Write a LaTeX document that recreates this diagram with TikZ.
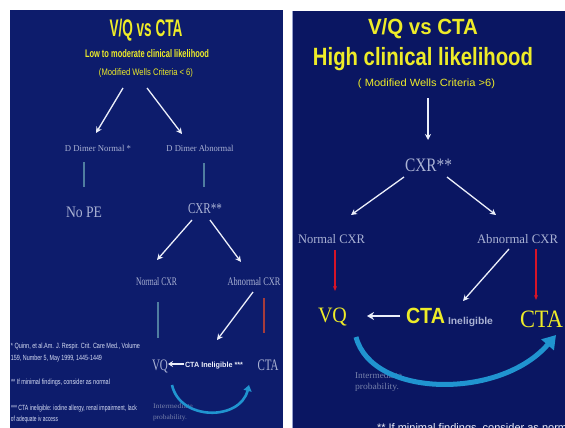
\documentclass[tikz,border=0pt]{standalone}
\usepackage{fontspec}
\setmainfont{Liberation Serif}
\setsansfont{Liberation Sans}
\usetikzlibrary{arrows.meta}
\definecolor{bgL}{RGB}{13,28,108}
\definecolor{bgR}{RGB}{10,22,98}
\definecolor{ylw}{RGB}{238,236,40}
\definecolor{gtxt}{RGB}{170,178,212}
\definecolor{dimtxt}{RGB}{118,128,170}
\definecolor{fnote}{RGB}{215,222,245}
\definecolor{tealL}{RGB}{80,125,160}
\definecolor{redL}{RGB}{165,60,60}
\definecolor{redR}{RGB}{215,20,40}
\definecolor{cyanA}{RGB}{32,148,208}
\definecolor{wht}{RGB}{236,239,250}
\definecolor{edgeR}{RGB}{150,160,205}
\newcommand\sx[2]{\resizebox{#1pt}{\height}{#2}}
\newcommand\fs[1]{\fontsize{#1}{#1}\selectfont}
\begin{document}
\begin{tikzpicture}[x=1pt,y=-1pt,
  every node/.style={inner sep=0pt, outer sep=0pt},
  ytitle/.style={text=ylw, font=\sffamily\bfseries},
  glabel/.style={text=gtxt, font=\rmfamily},
  fn/.style={text=fnote, font=\sffamily\fs{7.5}, anchor=base west},
  warr/.style={draw=wht, line width=1.3pt, -{Stealth[length=6pt,width=6pt]}},
  rarr/.style={draw=redR, line width=1.2pt, -{Stealth[length=5pt,width=4pt]}},
  vline/.style={line width=1.1pt}
]
\useasboundingbox (0,0) rectangle (565,428);
\clip (0,0) rectangle (565,428);
\fill[white] (0,0) rectangle (565,428);
\fill[bgL] (10,10) rectangle (283,428);
\fill[bgR] (292,11) rectangle (565,428);
\draw[edgeR, line width=0.8pt] (292.4,11) -- (292.4,428);

% ---------------- left panel ----------------
\node[ytitle, font=\sffamily\bfseries\fs{24}, anchor=base] (tL) at (146,37) {\sx{73}{V/Q vs CTA}};
\node[ytitle, font=\sffamily\bfseries\fs{11}, anchor=base] (subL) at (147,58) {\sx{124}{Low to moderate clinical likelihood}};
\node[ytitle, font=\sffamily\fs{9.5}, anchor=base] (critL) at (146,75) {\sx{94}{(Modified Wells Criteria < 6)}};

\node[glabel, font=\rmfamily\fs{9}, anchor=base] (dn) at (98,151) {\sx{66}{D Dimer Normal *}};
\node[glabel, font=\rmfamily\fs{9}, anchor=base] (da) at (200,151) {\sx{67}{D Dimer Abnormal}};
\node[glabel, font=\rmfamily\fs{16}, anchor=base] (nope) at (84,217) {\sx{36}{No PE}};
\node[glabel, font=\rmfamily\fs{15}, anchor=base] (cxrL) at (205,213) {\sx{34}{CXR**}};
\node[glabel, font=\rmfamily\fs{11.5}, anchor=base] (ncL) at (156.5,285) {\sx{41}{Normal CXR}};
\node[glabel, font=\rmfamily\fs{11.5}, anchor=base] (acL) at (254,285) {\sx{53}{Abnormal CXR}};
\node[glabel, font=\rmfamily\fs{16}, anchor=base] (vqL) at (160,370) {\sx{16}{VQ}};
\node[text=wht, font=\sffamily\bfseries\fs{7.5}, anchor=base] (ineL) at (214,367) {\sx{58}{CTA Ineligible ***}};
\node[glabel, font=\rmfamily\fs{16}, anchor=base] (ctaL) at (268,370) {\sx{21}{CTA}};
\node[text=dimtxt, font=\rmfamily\fs{7}, anchor=base west] (intL1) at (153,408) {\sx{40}{Intermediate}};
\node[text=dimtxt, font=\rmfamily\fs{7}, anchor=base west] (intL2) at (153,419) {\sx{34}{probability.}};

\node[fn] (f1) at (11,348) {\sx{129}{* Quinn, et al.Am. J. Respir. Crit. Care Med., Volume}};
\node[fn] (f2) at (11,360) {\sx{91}{159, Number 5, May 1999, 1445-1449}};
\node[fn] (f3) at (11,384) {\sx{99}{** If minimal findings, consider as normal}};
\node[fn] (f4) at (11,410) {\sx{126}{*** CTA ineligible: iodine allergy, renal impairment, lack}};
\node[fn] (f5) at (11,421) {\sx{47}{of adequate iv access}};

\coordinate (l1s) at (123,88);  \coordinate (l1e) at (96,133);
\coordinate (l2s) at (147,88);  \coordinate (l2e) at (182,134);
\coordinate (l3s) at (192,220); \coordinate (l3e) at (157,260);
\coordinate (l4s) at (210,220); \coordinate (l4e) at (241,262);
\coordinate (l5s) at (253,292); \coordinate (l5e) at (217,340);
\coordinate (l6s) at (184,364); \coordinate (l6e) at (168,364);
\draw[warr] (l1s) -- (l1e);
\draw[warr] (l2s) -- (l2e);
\draw[warr] (l3s) -- (l3e);
\draw[warr] (l4s) -- (l4e);
\draw[warr] (l5s) -- (l5e);
\draw[warr, line width=1.6pt, -{Stealth[length=5pt,width=6pt]}] (l6s) -- (l6e);
\coordinate (v1s) at (84,162);  \coordinate (v1e) at (84,187);
\coordinate (v2s) at (204,163); \coordinate (v2e) at (204,187);
\coordinate (v3s) at (158,302); \coordinate (v3e) at (158,338);
\coordinate (v4s) at (264,298); \coordinate (v4e) at (264,333);
\draw[vline, tealL] (v1s) -- (v1e);
\draw[vline, tealL] (v2s) -- (v2e);
\draw[vline, tealL] (v3s) -- (v3e);
\draw[vline, redL] (v4s) -- (v4e);
\coordinate (bLs) at (172,385); \coordinate (bLe) at (249,385);
\draw[cyanA, line width=2.6pt, -{Triangle[length=6pt,width=8pt]}] (bLs) .. controls (180,421) and (240,421) .. (bLe);

% ---------------- right panel ----------------
\node[ytitle, font=\sffamily\bfseries\fs{22}, anchor=base] (tR) at (423,35) {\sx{110}{V/Q vs CTA}};
\node[ytitle, font=\sffamily\bfseries\fs{25}, anchor=base] (highR) at (423,66) {\sx{220}{High clinical likelihood}};
\node[ytitle, font=\sffamily\fs{10.5}, anchor=base] (critR) at (426.5,86) {\sx{137}{( Modified Wells Criteria >6)}};
\node[glabel, font=\rmfamily\fs{19}, anchor=base] (cxrR) at (428.5,171) {\sx{47}{CXR**}};
\node[glabel, font=\rmfamily\fs{13}, anchor=base] (ncR) at (331.5,243) {\sx{67}{Normal CXR}};
\node[glabel, font=\rmfamily\fs{13}, anchor=base] (acR) at (517.5,243) {\sx{81}{Abnormal CXR}};
\node[text=ylw, font=\rmfamily\fs{22}, anchor=base] (vqR) at (332.5,322) {\sx{29}{VQ}};
\node[ytitle, font=\sffamily\bfseries\fs{22}, anchor=base] (ctaB) at (425.5,323) {\sx{39}{CTA}};
\node[text=gtxt, font=\sffamily\bfseries\fs{10}, anchor=base west] (ineR) at (448,324) {\sx{45}{Ineligible}};
\node[text=ylw, font=\rmfamily\fs{25}, anchor=base] (ctaR) at (541.5,327) {\sx{43}{CTA}};
\node[text=dimtxt, font=\rmfamily\fs{9}, anchor=base west] (intR1) at (355,378) {\sx{47}{Intermediate}};
\node[text=dimtxt, font=\rmfamily\fs{9}, anchor=base west] (intR2) at (355,389) {\sx{44}{probability.}};
\node[text=wht, font=\sffamily\fs{11}, anchor=base west] (fnR) at (377,431) {** If minimal findings, consider as normal};

\coordinate (r0s) at (428,98);  \coordinate (r0e) at (428,140);
\coordinate (r1s) at (404,177); \coordinate (r1e) at (351,215);
\coordinate (r2s) at (447,177); \coordinate (r2e) at (496,215);
\coordinate (r3s) at (509,249); \coordinate (r3e) at (463,301);
\coordinate (r4s) at (400,316); \coordinate (r4e) at (367,316);
\draw[warr] (r0s) -- (r0e);
\draw[warr] (r1s) -- (r1e);
\draw[warr] (r2s) -- (r2e);
\draw[warr] (r3s) -- (r3e);
\draw[warr, line width=1.8pt, -{Stealth[length=7pt,width=8pt]}] (r4s) -- (r4e);
\coordinate (d1s) at (335,250); \coordinate (d1e) at (335,291);
\coordinate (d2s) at (536,249); \coordinate (d2e) at (536,300);
\draw[rarr] (d1s) -- (d1e);
\draw[rarr] (d2s) -- (d2e);
\coordinate (bRs) at (356,337); \coordinate (bRe) at (556,335);
\draw[cyanA, line width=5pt, -{Triangle[length=13pt,width=16pt]}] (bRs) .. controls (372,398) and (500,400) .. (bRe);
\end{tikzpicture}
\end{document}
